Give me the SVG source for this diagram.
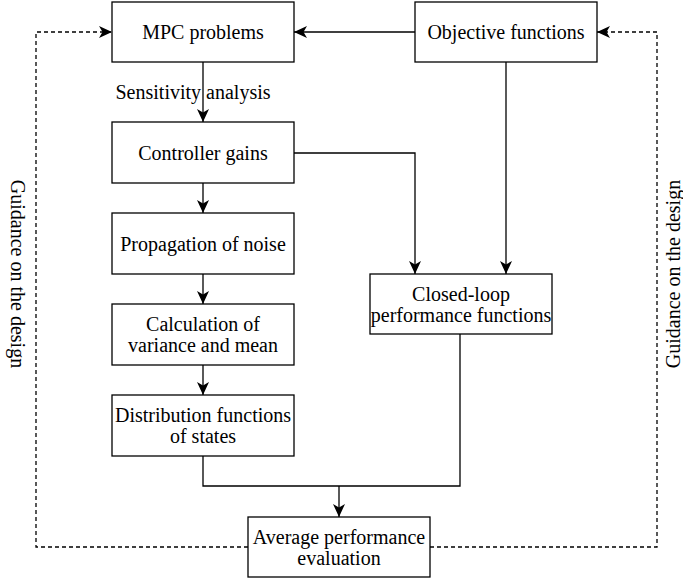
<svg xmlns="http://www.w3.org/2000/svg" width="683" height="582" viewBox="0 0 683 582">
<style>
.box{fill:#fff;stroke:#000;stroke-width:1.3}
.t{font-family:'Liberation Serif','Times New Roman','DejaVu Serif',serif;font-size:20px;fill:#000;text-anchor:middle}
.ln{fill:none;stroke:#000;stroke-width:1.3}
.dash{fill:none;stroke:#000;stroke-width:1.3;stroke-dasharray:4 3}
</style>
<defs>
<marker id="arr" markerUnits="userSpaceOnUse" markerWidth="14" markerHeight="14" refX="13" refY="7" orient="auto">
<path d="M0,1 L13,7 L0,13 L3.5,7 Z" fill="#000"/>
</marker>
</defs>
<rect width="683" height="582" fill="#fff"/>
<g id="connectors">
<path class="ln" d="M203,62 V122" marker-end="url(#arr)"/>
<path class="ln" d="M203,183 V213" marker-end="url(#arr)"/>
<path class="ln" d="M203,274 V304" marker-end="url(#arr)"/>
<path class="ln" d="M203,365 V395" marker-end="url(#arr)"/>
<path class="ln" d="M415,32 H294" marker-end="url(#arr)"/>
<path class="ln" d="M294,153 H415 V274" marker-end="url(#arr)"/>
<path class="ln" d="M506,62 V274" marker-end="url(#arr)"/>
<path class="ln" d="M203,456 V486 H460 V334"/>
<path class="ln" d="M339,486 V517" marker-end="url(#arr)"/>
<path class="dash" d="M248,547 H36 V32 H112" marker-end="url(#arr)"/>
<path class="dash" d="M430,547 H657 V32 H597" marker-end="url(#arr)"/>
<text class="t" x="193" y="99">Sensitivity analysis</text>
<text class="t" transform="translate(11,274) rotate(90)">Guidance on the design</text>
<text class="t" transform="translate(680,274) rotate(-90)">Guidance on the design</text>
</g>
<g id="mpc"><rect class="box" x="112" y="2" width="182" height="60"/><text class="t" x="203" y="39">MPC problems</text></g>
<g id="objective"><rect class="box" x="415" y="2" width="182" height="60"/><text class="t" x="506" y="39">Objective functions</text></g>
<g id="gains"><rect class="box" x="112" y="122" width="182" height="61"/><text class="t" x="203" y="159.5">Controller gains</text></g>
<g id="noise"><rect class="box" x="112" y="213" width="182" height="61"/><text class="t" x="203" y="250.5">Propagation of noise</text></g>
<g id="variance"><rect class="box" x="112" y="304" width="182" height="61"/><text class="t" x="203" y="331">Calculation of</text><text class="t" x="203" y="352">variance and mean</text></g>
<g id="distribution"><rect class="box" x="112" y="395" width="182" height="61"/><text class="t" x="203" y="422">Distribution functions</text><text class="t" x="203" y="443">of states</text></g>
<g id="closedloop"><rect class="box" x="370" y="274" width="182" height="60"/><text class="t" x="461" y="300.5">Closed-loop</text><text class="t" x="461" y="321.5">performance functions</text></g>
<g id="average"><rect class="box" x="248" y="517" width="182" height="60"/><text class="t" x="339" y="543.5">Average performance</text><text class="t" x="339" y="564.5">evaluation</text></g>
</svg>
